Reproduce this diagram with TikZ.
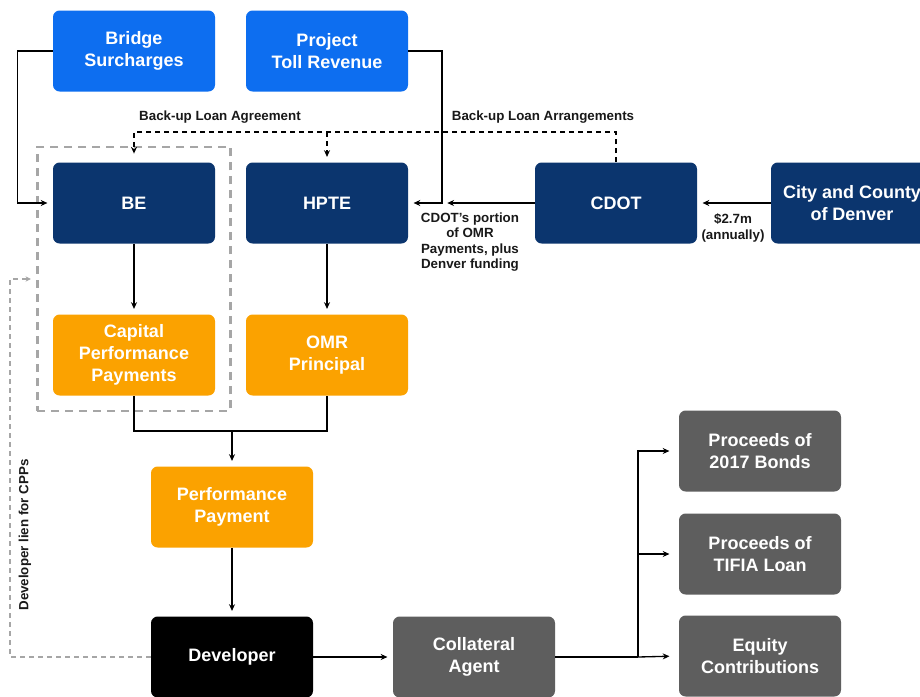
\documentclass[tikz,border=0pt]{standalone}
\usepackage{fontspec}
\setmainfont{Liberation Sans}
\usetikzlibrary{arrows.meta,fit}
\definecolor{brightblue}{HTML}{0D6EF0}
\definecolor{navy}{HTML}{0B356E}
\definecolor{amber}{HTML}{FBA200}
\definecolor{slate}{HTML}{5E5E5E}
\definecolor{dashgray}{HTML}{A6A6A6}
\tikzset{
	box/.style={rounded corners=5pt, minimum width=121.5pt, minimum height=60.75pt, inner sep=0pt, align=center, text=white, font=\bfseries\fontsize{13.5}{16.5}\selectfont},
	note/.style={inner sep=0pt, align=center, text=black!90, font=\bfseries\fontsize{10}{11.7}\selectfont},
	line/.style={line width=1pt, black},
	flow/.style={line, -{Stealth[length=5pt,width=4.5pt]}, shorten >=4pt},
	backup/.style={line width=1pt, dash pattern=on 3.75pt off 3pt},
	lien/.style={dashgray, line width=1.2pt, dash pattern=on 3.75pt off 3pt},
	group/.style={draw=dashgray, line width=1.8pt, dash pattern=on 6pt off 4.5pt}
}

\begin{document}
\begin{tikzpicture}[x=0.75pt,y=-0.75pt]
	%%%%% START %%%%%
	\path[use as bounding box, clip] (0,0) rectangle (920,696);
	\fill[white] (0,0) rectangle (920,696);
	
	% sources
	\node[box, fill=brightblue] (bridge) at (134,51) {Bridge\\Surcharges};
	\node[box, fill=brightblue] (toll) at (327,51) {Project\\Toll Revenue};
	
	\node[box, fill=navy] (be) at (134,203) {BE};
	\node[box, fill=navy] (hpte) at (327,203) {HPTE};
	\node[box, fill=navy] (cdot) at (616,203) {CDOT};
	\node[box, fill=navy] (denver) at (852,203) {City and County\\of Denver};
	
	\node[box, fill=amber] (cpp) at (134,355) {Capital\\Performance\\Payments};
	\node[box, fill=amber] (omr) at (327,355) {OMR\\Principal};
	\node[box, fill=amber] (perf) at (232,507) {Performance\\Payment};
	
	\node[box, fill=black] (dev) at (232,657) {Developer};
	\node[box, fill=slate] (coll) at (474,657) {Collateral\\Agent};
	\node[box, fill=slate] (bonds) at (760,451) {Proceeds of\\2017 Bonds};
	\node[box, fill=slate] (tifia) at (760,554) {Proceeds of\\TIFIA Loan};
	\node[box, fill=slate] (equity) at (760,656) {Equity\\Contributions};
	
	\node[group, fit=(be)(cpp), inner sep=11.5pt] (grp) {};
	
	% funding into BE and HPTE
	\coordinate (drop) at (442,203);
	\draw[flow] (bridge.west) -- ++(-35,0) |- (be.west);
	\draw[flow] (toll.east) -| (drop) -- (hpte.east);
	\draw[flow] (cdot.west) -- (drop);
	\draw[flow] (denver.west) -- (cdot.east);
	\node[note] (cdotnote) at (470,242) {CDOT's portion\\of OMR\\Payments, plus\\Denver funding};
	\node[note] (denvernote) at (733,228) {\$2.7m\\(annually)};
	
	% back-up loans
	\coordinate (backup) at (617,132);
	\draw[backup, -{Stealth[length=5pt,width=4.5pt]}, shorten >=6.5pt] (cdot.north) -- (cdot.north |- backup) -| (be.north);
	\draw[backup, -{Stealth[length=5pt,width=4.5pt]}, shorten >=4pt] (hpte.north |- backup) -- (hpte.north);
	\node[note] (agreelabel) at (220,117) {Back-up Loan Agreement};
	\node[note] (arrangelabel) at (543,117) {Back-up Loan Arrangements};
	
	% payments down to developer
	\coordinate (merge) at (232,431);
	\draw[flow] (be) -- (cpp);
	\draw[flow] (hpte) -- (omr);
	\draw[line] (cpp.south) |- (merge) -| (omr.south);
	\draw[flow] (merge) -- (perf.north);
	\draw[flow] (perf) -- (dev);
	\draw[flow] (dev) -- (coll);
	
	% lien
	\coordinate (lien) at (10,279);
	\draw[lien, -{Stealth[length=4pt,width=4pt]}, shorten >=4pt] (dev.west) -| (lien) -- (grp.west |- lien);
	\node[note, rotate=90] (lienlabel) at (25,535) {Developer lien for CPPs};
	
	% collateral agent
	\coordinate (split) at (638,657);
	\draw[line] (coll.east) -- (split);
	\draw[flow, shorten >=7pt] (split) |- (bonds.west);
	\draw[flow, shorten >=7pt] (split) |- (tifia.west);
	\draw[flow, shorten >=7pt] (split) -- (equity.west);
	%%%%% END %%%%%
\end{tikzpicture}
\end{document}
